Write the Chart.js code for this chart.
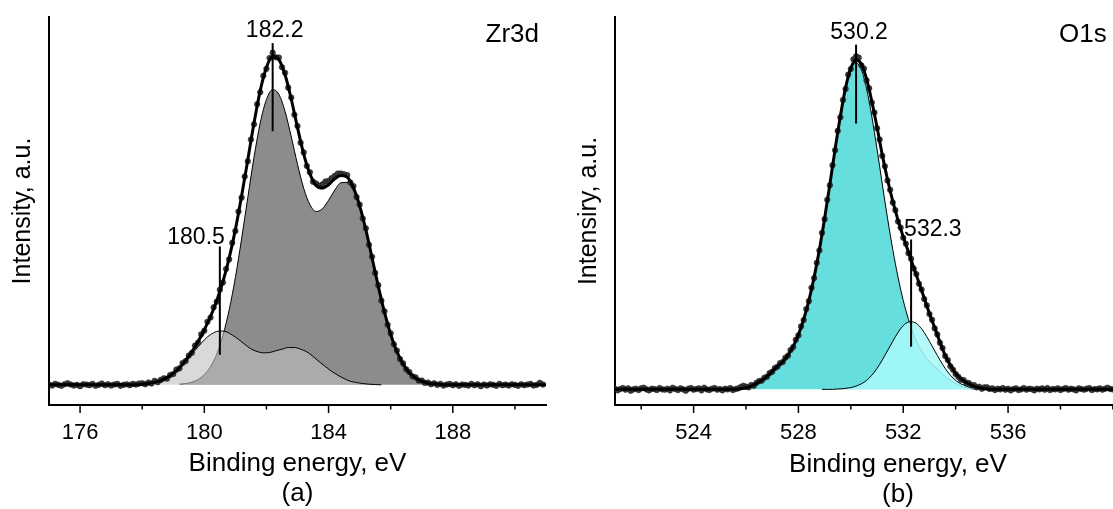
<!DOCTYPE html>
<html>
<head>
<meta charset="utf-8">
<title>XPS Zr3d / O1s</title>
<script src="https://cdn.jsdelivr.net/npm/chart.js@4.4.1/dist/chart.umd.min.js"></script>
<style>
  html, body { margin: 0; padding: 0; background: #fff; overflow: hidden; }
  #wrap { position: relative; width: 1113px; height: 509px; overflow: hidden; }
  canvas { position: absolute; top: 0; }
  #zr { left: 0; }
  #o1s { left: 557px; }
</style>
</head>
<body>
<div id="wrap">
  <canvas id="zr" width="557" height="509"></canvas>
  <canvas id="o1s" width="630" height="509"></canvas>
</div>
<script>
//---------- Zr3d (a) ----------
// measured points, every 0.1 eV from 175.0
var zrStart = 175.0, zrStep = 0.1;
var zrCounts = [
  0.1, -0.2, 0.3, 0.0, -0.3, 0.2, 0.5, 0.1, -0.2, 0.0,
  -0.4, 0.2, 0.1, -0.1, 0.3, -0.3, 0.0, 0.4, -0.1, 0.2,
  -0.2, 0.1, 0.3, -0.3, 0.0, 0.2, -0.1, 0.3, 0.1, 0.4,
  0.5, 0.2, 0.7, 0.4, 1.2, 0.8, 1.5, 2.0, 1.9, 3.0,
  3.3, 4.6, 5.0, 6.6, 7.2, 8.9, 9.7, 11.9, 12.8, 15.3,
  16.4, 19.1, 20.4, 23.5, 25.2, 28.8, 31.0, 35.1, 38.0, 43.0,
  46.6, 52.5, 56.7, 63.1, 67.7, 74.3, 78.9, 85.0, 88.6, 93.6,
  95.7, 99.0, 100.6, 99.2, 99.1, 96.2, 94.5, 90.0, 87.0, 81.8,
  78.4, 73.3, 70.4, 66.3, 64.4, 61.5, 61.0, 60.3, 60.7, 61.6,
  61.8, 62.6, 63.3, 64.0, 64.0, 63.8, 63.5, 61.3, 60.2, 56.9,
  54.6, 50.4, 47.4, 42.4, 38.8, 33.9, 30.2, 25.5, 22.3, 18.2,
  15.6, 12.3, 10.4, 7.8, 6.5, 4.7, 3.9, 2.6, 2.3, 1.3,
  1.3, 0.6, 0.7, 0.2, 0.5, 0.0, 0.3, -0.2, 0.1, 0.3,
  -0.1, 0.2, -0.3, 0.1, 0.0, -0.2, 0.3, -0.1, 0.2, -0.4,
  0.1, -0.2, 0.2, 0.0, -0.3, 0.3, -0.1, 0.1, -0.2, 0.2,
  0.0, -0.3, 0.2, -0.1, 0.1, 0.3, -0.2, 0.0, 0.6, 0.1
];
// fit envelope, every 0.2 eV from 175.0
var zrFitStart = 175.0, fitStep = 0.2;
var zrFit = [
  0, 0, 0, 0, 0, 0, 0, 0, 0, 0, 0, 0, 0, 0, 0,
  0.2, 0.4, 0.8, 1.3, 2.2, 3.5, 5.2, 7.4, 10.0, 13.1,
  16.7, 20.7, 25.5, 31.3, 38.4, 47.0, 57.2, 68.2, 79.3, 89.1,
  96.1, 99.5, 98.5, 93.9, 86.5, 77.9, 69.9, 63.9, 60.4, 59.6,
  60.6, 62.4, 63.4, 62.9, 59.7, 54.3, 47.0, 38.5, 29.9, 22.0,
  15.3, 10.1, 6.3, 3.7, 2.1, 1.1, 0.5, 0.3, 0.1,
  0, 0, 0, 0, 0, 0, 0, 0, 0, 0, 0, 0, 0, 0, 0, 0, 0
];
// ZrO2 doublet (dark) and sub-oxide doublet (light), every 0.2 eV
var zrMainStart = 179.2;
var zrMain = [
  0.2, 0.4, 0.8, 1.6, 3.1, 5.5, 9.3, 15.0, 22.7, 32.5, 44.2,
  56.7, 68.9, 79.3, 86.4, 89.4, 88.0, 82.8, 75.1, 66.8, 59.5,
  54.6, 52.5, 53.3, 55.9, 59.0, 61.2, 61.3, 58.9, 53.8, 46.7,
  38.3, 29.9, 22.0, 15.3, 10.1, 6.3, 3.7, 2.1, 1.1, 0.5, 0.3, 0.1, 0.0
];
var zrSubStart = 177.9;
var zrSub = [
  0.1, 0.3, 0.6, 1.0, 1.7, 2.8, 4.2, 6.0, 8.1, 10.4, 12.6,
  14.5, 15.8, 16.3, 16.1, 15.1, 13.8, 12.3, 10.9, 10.1, 9.7,
  9.8, 10.3, 10.8, 11.3, 11.3, 10.8, 10.0, 8.6, 7.0, 5.5,
  4.1, 2.9, 1.9, 1.1, 0.7, 0.4, 0.2, 0.1, 0.0
];
var zrPeaks = [182.2, 180.5];
var zrMarkTop = [103.5, 41.9];
var zrMarkBottom = [76.8, 9.1];
var zrLabelY = [107.3, 44.5];
var zrMajor = [176, 180, 184, 188];
var zrMinor = [178, 182, 186, 190];

//---------- O1s (b) ----------
var oStart = 521.0, oStep = 0.1;
var oCounts = [
  0.2, -0.3, 0.1, 0.4, -0.1, 0.3, -0.4, 0.0, 0.2, -0.2,
  0.3, 0.5, 0.0, -0.3, 0.2, 0.1, -0.2, 0.4, 0.0, -0.1,
  0.2, -0.3, 0.5, 0.1, -0.2, 0.3, 0.0, -0.4, 0.2, 0.4,
  -0.1, 0.1, 0.3, -0.3, 0.5, 0.0, -0.2, 0.2, 0.4, -0.1,
  0.1, -0.3, 0.2, 0.0, 0.4, -0.2, 0.1, 0.3, 0.7, 1.1,
  0.8, 0.6, 1.3, 1.1, 2.0, 2.5, 2.6, 3.5, 3.8, 4.9,
  5.3, 6.4, 6.8, 7.9, 8.2, 9.5, 10.1, 11.8, 12.7, 14.9,
  16.2, 18.9, 20.8, 24.1, 26.5, 30.5, 33.4, 38.0, 41.7, 47.0,
  51.1, 56.9, 61.3, 67.3, 71.8, 77.6, 81.7, 86.9, 90.2, 94.5,
  96.2, 99.1, 100.0, 99.6, 97.3, 96.3, 92.8, 90.4, 86.1, 83.1,
  78.4, 75.0, 70.1, 67.0, 62.7, 59.9, 56.1, 53.8, 50.4, 48.6,
  45.5, 43.7, 40.9, 39.2, 36.3, 34.6, 31.7, 30.0, 27.1, 25.2,
  22.6, 20.9, 18.3, 16.5, 14.0, 12.4, 10.0, 8.8, 6.9, 5.9,
  4.6, 3.8, 2.9, 2.8, 2.0, 1.9, 1.2, 1.3, 0.6, 0.8,
  0.2, 0.6, 0.6, 0.1, 0.3, -0.2, 0.2, 0.0, 0.4, -0.1,
  0.2, -0.3, 0.1, 0.3, -0.2, 0.0, 0.4, -0.1, 0.2, 0.1,
  -0.3, 0.2, 0.0, 0.3, -0.1, 0.4, -0.2, 0.1, 0.0, 0.3,
  -0.2, 0.1, 0.4, -0.1, 0.2, 0.0, -0.3, 0.3, 0.1, -0.1,
  0.2, 0.4, -0.2, 0.1, 0.0, 0.3, -0.1, 0.2, 0.5, 0.1,
  0.0
];
var oFitStart = 521.0;
var oFit = [
  0, 0, 0, 0, 0, 0, 0, 0, 0, 0, 0, 0, 0, 0, 0, 0, 0, 0, 0, 0, 0, 0, 0, 0,
  0.2, 0.5, 1.0, 1.8, 2.7, 3.9, 5.4, 6.9, 8.3, 10.3,
  12.9, 16.4, 21.0, 26.7, 33.7, 42.0, 51.4, 61.6, 72.1, 82.0,
  90.6, 96.5, 99.0, 97.7, 93.2, 86.5, 78.7, 70.4, 63.0, 56.5,
  50.8, 45.8, 41.2, 36.6, 32.0, 27.4, 22.8, 18.5, 14.2, 10.2,
  7.2, 4.8, 3.2, 2.1, 1.3, 0.7, 0.3,
  0.1, 0, 0, 0, 0, 0, 0, 0, 0, 0, 0, 0, 0, 0, 0, 0, 0, 0, 0, 0, 0, 0, 0, 0, 0
];
var oMainStart = 525.6;
var oMain = [
  0.0, 0.2, 0.5, 1.0, 1.8, 2.7, 3.9, 5.4, 6.9, 8.3, 10.3, 12.9,
  16.4, 21.0, 26.7, 33.7, 42.0, 51.4, 61.6, 72.1, 82.0, 90.3, 96.0,
  98.0,
  96.0, 90.3, 82.0, 72.1, 61.6, 51.4, 42.0, 33.7, 26.7, 21.0, 16.4,
  12.9, 10.3, 8.3, 6.9, 5.4, 3.9, 2.7, 1.8, 1.0, 0.5, 0.2, 0.0
];
var oSubStart = 528.9;
var oSub = [
  0.0, 0.0, 0.0, 0.1, 0.2, 0.4, 0.7, 1.3, 2.1, 3.4, 5.2, 7.5,
  10.2, 13.0, 15.8, 18.2, 19.8,
  20.3,
  19.8, 18.2, 15.8, 13.0, 10.2, 7.5, 5.2, 3.4, 2.1, 1.3, 0.7,
  0.4, 0.2, 0.1, 0.0, 0.0, 0.0
];
var oPeaks = [530.2, 532.3];
var oMarkTop = [103.5, 45.0];
var oMarkBottom = [79.8, 12.8];
var oLabelY = [107.1, 48.0];
var oMajor = [524, 528, 532, 536];
var oMinor = [522, 526, 530, 534, 538, 540, 542];

var FONT = '"Liberation Sans", Arial, Helvetica, sans-serif';
Chart.defaults.font.family = FONT;
Chart.defaults.color = '#000';

// turn a start/step/values triple into {x,y} points
function pts(start, step, ys) {
  return ys.map(function(v, i) {
    return { x: +(start + i * step).toFixed(2), y: v };
  });
}

// tick marks, peak markers and panel name
var decor = {
  id: 'decor',
  afterDraw: function(chart, args, o) {
    var ctx = chart.ctx, xs = chart.scales.x, ys = chart.scales.y, a = chart.chartArea;
    ctx.save();
    ctx.strokeStyle = '#000';
    ctx.fillStyle = '#000';
    ctx.lineWidth = 1.5;
    var tick = function(v, len) {
      var px = xs.getPixelForValue(v);
      ctx.beginPath();
      ctx.moveTo(px, a.bottom);
      ctx.lineTo(px, a.bottom + len);
      ctx.stroke();
    };
    o.major.forEach(function(v) { tick(v, 8); });
    o.minor.forEach(function(v) { tick(v, 4.5); });

    ctx.lineWidth = 2;
    ctx.font = '23px ' + FONT;
    ctx.textBaseline = 'middle';
    o.peaks.forEach(function(p, i) {
      var px = xs.getPixelForValue(p);
      ctx.beginPath();
      ctx.moveTo(px, ys.getPixelForValue(o.top[i]));
      ctx.lineTo(px, ys.getPixelForValue(o.bottom[i]));
      ctx.stroke();
      ctx.textAlign = o.align[i];
      ctx.fillText(p.toFixed(1), px + o.dx[i], ys.getPixelForValue(o.labelY[i]));
    });

    ctx.font = '26px ' + FONT;
    ctx.textAlign = o.nameAlign;
    ctx.fillText(o.name, a.left + o.nameX, a.top + 18);
    ctx.restore();
  }
};

function makeChart(id, cfg) {
  var ds = [
    { label: 'main', data: cfg.main, borderColor: '#000', borderWidth: 1,
      backgroundColor: cfg.mainColor, fill: 'origin', order: 4 },
    { label: 'sub', data: cfg.sub, borderColor: '#000', borderWidth: 1,
      backgroundColor: cfg.subColor, fill: 'origin', order: 3 },
    { label: 'data', data: cfg.counts, showLine: false, pointRadius: 2.8,
      pointBackgroundColor: 'rgba(50,50,50,0.95)', pointBorderColor: '#1a1a1a',
      pointBorderWidth: 0.5, order: 2 },
    { label: 'fit', data: cfg.fit, borderColor: '#000', borderWidth: 3,
      fill: false, order: 1 }
  ];
  return new Chart(document.getElementById(id), {
    type: 'line',
    data: { datasets: ds },
    options: {
      responsive: false,
      devicePixelRatio: 1,
      animation: false,
      events: [],
      layout: { padding: { top: 17, right: cfg.padRight, left: 0, bottom: 0 } },
      elements: {
        point: { radius: 0, hoverRadius: 0 },
        line: { cubicInterpolationMode: 'monotone' }
      },
      plugins: {
        legend: { display: false },
        tooltip: { enabled: false },
        decor: {
          major: cfg.major, minor: cfg.minor,
          peaks: cfg.peaks, top: cfg.top, bottom: cfg.bottom, labelY: cfg.labelY,
          align: cfg.align, dx: cfg.dx,
          name: cfg.name, nameX: cfg.nameX, nameAlign: cfg.nameAlign
        }
      },
      scales: {
        x: {
          type: 'linear', min: cfg.xmin, max: cfg.xmax,
          afterBuildTicks: function(s) { s.ticks = cfg.major.map(function(v) { return { value: v }; }); },
          afterFit: function(s) { s.height = 104; },
          ticks: { font: { size: 22 }, padding: 15, autoSkip: false, maxRotation: 0,
                   callback: function(v) { return String(v); } },
          grid: { drawOnChartArea: false, drawTicks: false },
          border: { color: '#000', width: 2 },
          title: { display: true, text: ['Binding energy, eV', cfg.tag],
                   font: { size: 26, lineHeight: 1.15 }, padding: { top: 0, bottom: cfg.titleBottom } }
        },
        y: {
          min: cfg.ymin, max: cfg.ymax,
          afterFit: function(s) { s.width = cfg.yWidth; },
          ticks: { display: false },
          grid: { drawOnChartArea: false, drawTicks: false },
          border: { color: '#000', width: 2 },
          title: { display: true, text: cfg.ytitle, font: { size: 25, lineHeight: 1.15 },
                   padding: { top: cfg.ytitlePad, bottom: 0 } }
        }
      }
    },
    plugins: [decor]
  });
}

makeChart('zr', {
  main: pts(zrMainStart, fitStep, zrMain),
  sub: pts(zrSubStart, fitStep, zrSub),
  counts: pts(zrStart, zrStep, zrCounts),
  fit: pts(zrFitStart, fitStep, zrFit),
  mainColor: '#8c8c8c', subColor: 'rgba(192,192,192,0.6)',
  xmin: 175, xmax: 191, ymin: -6.1, ymax: 111.4,
  major: zrMajor, minor: zrMinor,
  peaks: zrPeaks, top: zrMarkTop, bottom: zrMarkBottom, labelY: zrLabelY,
  align: ['center', 'right'], dx: [2, 5],
  name: 'Zr3d', nameX: 490, nameAlign: 'right',
  padRight: 11, yWidth: 49, ytitlePad: 9, titleBottom: 0,
  tag: '(a)', ytitle: 'Intensity, a.u.'
});

makeChart('o1s', {
  main: pts(oMainStart, fitStep, oMain),
  sub: pts(oSubStart, fitStep, oSub),
  counts: pts(oStart, oStep, oCounts),
  fit: pts(oFitStart, fitStep, oFit),
  mainColor: '#66dede', subColor: 'rgba(169,249,249,0.86)',
  xmin: 521, xmax: 542.6, ymin: -4.7, ymax: 111.8,
  major: oMajor, minor: oMinor,
  peaks: oPeaks, top: oMarkTop, bottom: oMarkBottom, labelY: oLabelY,
  align: ['center', 'left'], dx: [3, -7],
  name: 'O1s', nameX: 444, nameAlign: 'left',
  padRight: 6, yWidth: 58, ytitlePad: 17.6, titleBottom: -1,
  tag: '(b)', ytitle: 'Intensiry, a.u.'
});
</script>
</body>
</html>
